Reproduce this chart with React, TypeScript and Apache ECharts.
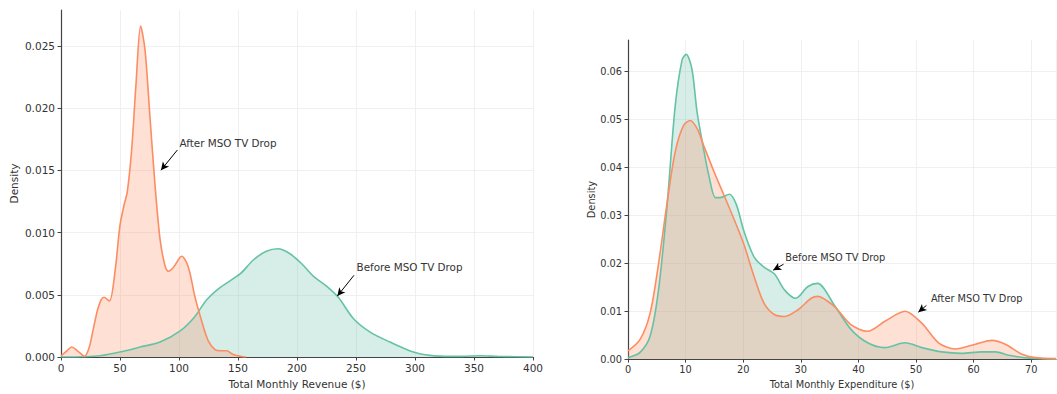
import React, { useEffect, useRef } from "react";
import * as echarts from "echarts";

const GREEN = "#66c2a5";
const ORANGE = "#fc8d62";

// Total Monthly Revenue ($) densities
const revenueBefore: [number, number][] = [
  [0, 0], [20, 0.00002], [33, 0.0001], [50, 0.0004], [67, 0.0008], [84, 0.0012],
  [101, 0.0021], [113, 0.0032], [123.5, 0.0046], [135, 0.0056], [152, 0.0067],
  [163, 0.0078], [174, 0.0085], [184, 0.0087], [194, 0.0083], [204, 0.0075],
  [213.8, 0.0065], [225, 0.0057], [235, 0.0048], [247.7, 0.0031], [262, 0.002],
  [278.8, 0.0012], [298.6, 0.0004], [312.7, 0.00013], [330, 0.00005], [340, 0.00005],
  [355, 0.0001], [370, 0.00005], [385, 0.00002], [400, 0],
];
const revenueAfter: [number, number][] = [
  [0, 0.0001], [5, 0.0005], [9, 0.0008], [14, 0.0005], [20, 0.00005], [24, 0.0008],
  [27, 0.0021], [31, 0.0038], [34, 0.0046], [36.5, 0.0048], [41, 0.0045], [45.8, 0.0069],
  [50, 0.0106], [53.4, 0.0122], [56.2, 0.0133], [59.9, 0.0167], [63.6, 0.022],
  [67.5, 0.0266], [71.2, 0.0247], [75.4, 0.0193], [79.7, 0.0138], [83.9, 0.0095],
  [88, 0.0074], [91, 0.0069], [95.2, 0.0072], [102.3, 0.0081], [108, 0.0072],
  [113.6, 0.0048], [119.2, 0.0029], [124.8, 0.0013], [130.5, 0.0006], [135, 0.0005],
  [140.4, 0.0005], [146, 0.0002], [154, 0.00002], [157, 0],
];

// Total Monthly Expenditure ($) densities
const expenditureBefore: [number, number][] = [
  [0, 0.0003], [2.1, 0.0014], [3.84, 0.0048], [5.3, 0.0144], [6.75, 0.0316],
  [8.2, 0.0529], [9.4, 0.0625], [10.1, 0.0636], [11.1, 0.0605], [12, 0.0515],
  [13.1, 0.044], [14, 0.0385], [15.2, 0.0337], [16, 0.0337], [17.6, 0.0344],
  [18.8, 0.0323], [20.1, 0.0268], [21.9, 0.0213], [23.6, 0.0192], [25.4, 0.0178],
  [27.2, 0.0144], [29.1, 0.0127], [31.2, 0.0151], [32.9, 0.0158], [35.8, 0.0113],
  [38.7, 0.0062], [41.6, 0.0034], [44.6, 0.0024], [48.1, 0.0034], [51, 0.0024],
  [54.5, 0.0015], [57.9, 0.0012], [61.4, 0.0015], [63.8, 0.0015], [66.1, 0.0008],
  [69.6, 0.0002], [74.3, 0],
];
const expenditureAfter: [number, number][] = [
  [0, 0.0017], [2.1, 0.0041], [3.84, 0.0096], [5.3, 0.0199], [6.75, 0.0323],
  [8.2, 0.0433], [9.65, 0.0488], [10.8, 0.0498], [12, 0.0481], [13.1, 0.0447],
  [14.9, 0.0392], [16.6, 0.0344], [18.3, 0.0295], [20.1, 0.024], [21.9, 0.0172],
  [23.6, 0.0117], [25.4, 0.0093], [27.2, 0.0089], [29.5, 0.0103], [31.8, 0.0127],
  [32.9, 0.0131], [35.8, 0.011], [38.7, 0.0072], [41.6, 0.0058], [44.6, 0.0079],
  [48.1, 0.01], [51, 0.0075], [53.9, 0.0034], [56.8, 0.0021], [60.3, 0.0031],
  [63.2, 0.0039], [65.5, 0.0031], [68.4, 0.001], [70.7, 0.0003], [74.3, 0.0001],
];

// Annotations: text anchor, arrow start, arrow tip (data coordinates)
const revenueAfterNote = { text: "After MSO TV Drop", at: [100, 0.01723], from: [98.6, 0.01664], to: [84.7, 0.01502] };
const revenueBeforeNote = { text: "Before MSO TV Drop", at: [250, 0.00721], from: [248.3, 0.00657], to: [234.2, 0.0049] };
const expenditureBeforeNote = { text: "Before MSO TV Drop", at: [27.2, 0.02115], from: [27.0, 0.0198], to: [25.2, 0.01856] };
const expenditureAfterNote = { text: "After MSO TV Drop", at: [52.5, 0.01258], from: [51.8, 0.0112], to: [50.4, 0.0098] };

const FONT = "DejaVu Sans";
const TEXT = "#333333";

function note(n: any, fontSize: number) {
  return {
    markPoint: {
      silent: true,
      symbol: "circle",
      symbolSize: 1,
      itemStyle: { color: "rgba(0,0,0,0)" },
      label: {
        show: true,
        position: "right",
        distance: 0,
        formatter: n.text,
        color: TEXT,
        fontSize,
        fontFamily: FONT,
      },
      data: [{ coord: n.at, name: n.text }],
    },
    markLine: {
      silent: true,
      symbol: ["none", "arrow"],
      symbolSize: [6, 8],
      label: { show: false },
      lineStyle: { color: "#000", width: 1, type: "solid" },
      emphasis: { disabled: true },
      data: [[{ coord: n.from }, { coord: n.to }]],
    },
  };
}

function xAxis(gridIndex: number, max: number, interval: number, name: string, fontSize: number, nameGap: number) {
  return {
    type: "value",
    gridIndex,
    min: 0,
    max,
    interval,
    name,
    nameLocation: "middle",
    nameGap,
    nameTextStyle: { color: TEXT, fontSize, fontFamily: FONT },
    axisLine: { show: true, onZero: false, lineStyle: { color: "#444", width: 1.2 } },
    axisTick: { show: true, length: 3.5, lineStyle: { color: "#444" } },
    axisLabel: { color: TEXT, fontSize, fontFamily: FONT, margin: 5, showMaxLabel: max % interval === 0 },
    splitLine: { show: true, lineStyle: { color: "#ececec", width: 0.8 } },
  };
}

function yAxis(gridIndex: number, max: number, interval: number, digits: number, fontSize: number, nameGap: number) {
  return {
    type: "value",
    gridIndex,
    min: 0,
    max,
    interval,
    name: "Density",
    nameLocation: "middle",
    nameGap,
    nameTextStyle: { color: TEXT, fontSize, fontFamily: FONT },
    axisLine: { show: true, lineStyle: { color: "#444", width: 1.2 } },
    axisTick: { show: true, length: 3.5, lineStyle: { color: "#444" } },
    axisLabel: {
      color: TEXT,
      fontSize,
      fontFamily: FONT,
      margin: 6,
      showMaxLabel: false,
      formatter: (v: number) => v.toFixed(digits),
    },
    splitLine: { show: true, showMaxLine: false, lineStyle: { color: "#ececec", width: 0.8 } },
  };
}

function kde(data: [number, number][], color: string, xi: number, extra: any) {
  return {
    type: "line",
    xAxisIndex: xi,
    yAxisIndex: xi,
    data,
    smooth: 0.3,
    symbol: "none",
    silent: true,
    lineStyle: { color, width: 1.6 },
    itemStyle: { color },
    areaStyle: { color, opacity: 0.27 },
    ...extra,
  };
}

export default function App() {
  const ref = useRef<HTMLDivElement>(null);
  useEffect(() => {
    document.body.style.margin = "0";
    const chart = echarts.init(ref.current!, null, { renderer: "svg" });
    chart.setOption({
      animation: false,
      backgroundColor: "#ffffff",
      textStyle: { fontFamily: FONT },
      grid: [
        { left: 61, top: 10, width: 472, height: 350 },
        { left: 628, top: 40, width: 428, height: 323 },
      ],
      xAxis: [
        xAxis(0, 400, 50, "Total Monthly Revenue ($)", 10.5, 21),
        xAxis(1, 74.3, 10, "Total Monthly Expenditure ($)", 9.8, 19),
      ],
      yAxis: [yAxis(0, 0.0279, 0.005, 3, 10.5, 42), yAxis(1, 0.0666, 0.01, 2, 9.8, 30)],
      series: [
        kde(revenueBefore, GREEN, 0, note(revenueBeforeNote, 10.4)),
        kde(revenueAfter, ORANGE, 0, note(revenueAfterNote, 10.4)),
        kde(expenditureBefore, GREEN, 1, note(expenditureBeforeNote, 9.8)),
        kde(expenditureAfter, ORANGE, 1, note(expenditureAfterNote, 9.8)),
      ],
    });
    return () => chart.dispose();
  }, []);
  return <div ref={ref} style={{ width: 1057, height: 394 }} />;
}
